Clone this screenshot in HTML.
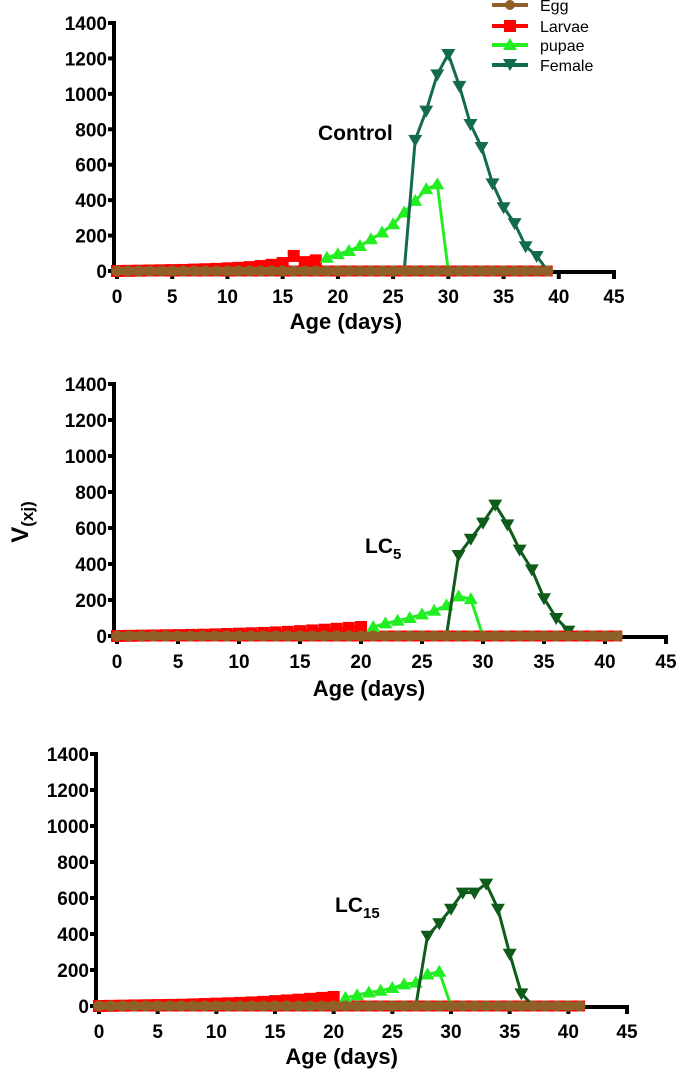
<!DOCTYPE html>
<html><head><meta charset="utf-8"><style>
html,body{margin:0;padding:0;background:#fff;}
svg{display:block;font-family:"Liberation Sans",Arial,sans-serif;font-weight:bold;}
</style></head><body>
<svg id="chart" width="685" height="1070" viewBox="0 0 685 1070" xmlns="http://www.w3.org/2000/svg">
<text transform="translate(28,522) rotate(-90)" font-size="24" text-anchor="middle">V<tspan font-size="17" dy="5">(xj)</tspan></text>
<g font-weight="normal" font-size="16">
 <g><line x1="492" y1="5" x2="528" y2="5" stroke="#8f6128" stroke-width="4"/><circle cx="510" cy="5" r="5" fill="#8f6128"/><text x="540" y="11">Egg</text></g>
 <g><line x1="492" y1="26" x2="528" y2="26" stroke="#ff0000" stroke-width="4"/><rect x="504" y="20" width="12" height="12" fill="#ff0000"/><text x="540" y="32">Larvae</text></g>
 <g><line x1="492" y1="45" x2="528" y2="45" stroke="#22ee22" stroke-width="4"/><path d="M510,38 L517,50 L503,50Z" fill="#22ee22"/><text x="540" y="51">pupae</text></g>
 <g><line x1="492" y1="65" x2="528" y2="65" stroke="#126b4a" stroke-width="4"/><path d="M503,59 L517,59 L510,71Z" fill="#126b4a"/><text x="540" y="71">Female</text></g>
</g>
</svg>
<script>
// Control panel data
const days = [0,1,2,3,4,5,6,7,8,9,10,11,12,13,14,15,16,17,18,19,20,21,22,23,24,25,26,27,28,29,30,31,32,33,34,35,36,37,38,39,40,41];
const ctrlLarvaeDays = [0,1,2,3,4,5,6,7,8,9,10,11,12,13,14,15,16,17,18];
const ctrlLarvae = [0,1,2,3,4,5,6,8,10,12,15,18,22,28,35,45,85,50,60];
const ctrlPupaeDays = [19,20,21,22,23,24,25,26,27,28,29,30];
const ctrlPupae = [75,95,113,141,179,217,264,330,396,462,490,0];
const ctrlFemaleDays = [26,27,28,29,30,31,32,33,34,35,36,37,38,39];
const ctrlFemale = [0,740,905,1110,1225,1045,830,700,495,360,270,140,85,0];
// LC5 panel data
const lc5LarvaeDays = [0,1,2,3,4,5,6,7,8,9,10,11,12,13,14,15,16,17,18,19,20];
const lc5Larvae = [0,1,2,3,4,5,6,7,9,11,13,15,17,20,23,27,31,35,40,45,50];
const lc5PupaeDays = [21,22,23,24,25,26,27,28,29,30];
const lc5Pupae = [50,70,85,100,120,140,170,220,205,0];
const lc5FemaleDays = [27,28,29,30,31,32,33,34,35,36,37];
const lc5Female = [0,450,540,630,730,620,480,370,210,100,30];
// LC15 panel data
const lc15LarvaeDays = [0,1,2,3,4,5,6,7,8,9,10,11,12,13,14,15,16,17,18,19,20];
const lc15Larvae = [0,1,2,3,4,5,6,7,9,11,13,15,17,20,23,27,31,35,40,45,50];
const lc15PupaeDays = [21,22,23,24,25,26,27,28,29,30];
const lc15Pupae = [45,60,75,85,100,120,130,175,190,0];
const lc15FemaleDays = [27,28,29,30,31,32,33,34,35,36,37];
const lc15Female = [0,390,460,540,630,630,680,540,290,70,0];
const yTicks = [0,200,400,600,800,1000,1200,1400];
const xTicks = [0,5,10,15,20,25,30,35,40,45];

const NS = "http://www.w3.org/2000/svg";
const svg = document.getElementById('chart');
function mk(tag, attrs, parent){const e=document.createElementNS(NS,tag);for(const k in attrs)e.setAttribute(k,attrs[k]);(parent||svg).appendChild(e);return e;}

const panels = [
 {name:'control', ax:114, x0:117, x45:614, y0:271, y1400:23, eggMax:39, label:'Control', sub:'', lx:318, ly:140, fcol:'#126b4a',
  lD:ctrlLarvaeDays, lV:ctrlLarvae, pD:ctrlPupaeDays, pV:ctrlPupae, fD:ctrlFemaleDays, fV:ctrlFemale, titleY:329},
 {name:'lc5', ax:114, x0:117, x45:666, y0:636, y1400:384, eggMax:41, label:'LC', sub:'5', lx:365, ly:553, fcol:'#0f5c1a',
  lD:lc5LarvaeDays, lV:lc5Larvae, pD:lc5PupaeDays, pV:lc5Pupae, fD:lc5FemaleDays, fV:lc5Female, titleY:696},
 {name:'lc15', ax:96, x0:99, x45:627, y0:1006, y1400:754, eggMax:41, label:'LC', sub:'15', lx:335, ly:912, fcol:'#0f5c1a',
  lD:lc15LarvaeDays, lV:lc15Larvae, pD:lc15PupaeDays, pV:lc15Pupae, fD:lc15FemaleDays, fV:lc15Female, titleY:1064}
];

panels.forEach(p=>{
 const g = mk('g',{});
 
 
 const X = d => p.x0 + (p.x45-p.x0)*d/45;
 const Y = v => p.y0 - (p.y0-p.y1400)*v/1400;
 const yax = mk('line',{x1:p.ax,y1:p.y1400-2,x2:p.ax,y2:p.y0+3,stroke:'#000','stroke-width':4},g);
 
 
 const xax = mk('line',{x1:p.ax,y1:p.y0+1,x2:X(45)+2,y2:p.y0+1,stroke:'#000','stroke-width':4},g);
 
 
 yTicks.forEach(t=>{
  mk('line',{x1:p.ax-6,y1:Y(t),x2:p.ax,y2:Y(t),stroke:'#000','stroke-width':4},g);
  const tx = mk('text',{x:p.ax-7,y:Y(t)+7,'font-size':19,'text-anchor':'end'},g);
  tx.textContent=t;
  
  
 });
 xTicks.forEach(t=>{
  mk('line',{x1:X(t),y1:p.y0,x2:X(t),y2:p.y0+8,stroke:'#000','stroke-width':4},g);
  const tx = mk('text',{x:X(t),y:p.y0+32,'font-size':19,'text-anchor':'middle'},g);
  tx.textContent=t;
  
  
 });
 const tt = mk('text',{x:(X(0)+X(40))/2+8,y:p.titleY,'font-size':22,'text-anchor':'middle'},g);
 tt.textContent='Age (days)';
 
 
 const lab = mk('text',{x:p.lx,y:p.ly,'font-size':21},g);
 lab.textContent=p.label;
 if(p.sub){const s=mk('tspan',{'font-size':15,dy:6},lab);s.textContent=p.sub;}
 
 
 const rb = mk('line',{x1:X(0)-5,y1:p.y0,x2:X(p.eggMax)+5,y2:p.y0,stroke:'#ff0000','stroke-width':11},g);
 
 
 const path=(D,V)=>D.map((d,i)=>(i?'L':'M')+X(d).toFixed(1)+','+Y(V[i]).toFixed(1)).join(' ');
 const lL = mk('path',{d:path(p.lD,p.lV),fill:'none',stroke:'#ff0000','stroke-width':3},g);
 
 
 p.lD.forEach((d,i)=>{const m=mk('rect',{x:X(d)-6,y:Y(p.lV[i])-6,width:12,height:12,fill:'#ff0000'},g);
  
  });
 const pL = mk('path',{d:path(p.pD,p.pV),fill:'none',stroke:'#22ee22','stroke-width':3},g);
 
 
 p.pD.forEach((d,i)=>{if(i===p.pD.length-1)return;const x=X(d),y=Y(p.pV[i]);
  const m=mk('path',{d:`M${x},${y-7} L${x+7},${y+5} L${x-7},${y+5}Z`,fill:'#22ee22'},g);
  
  });
 const fL = mk('path',{d:path(p.fD,p.fV),fill:'none',stroke:p.fcol,'stroke-width':3},g);
 
 
 p.fD.forEach((d,i)=>{if(i===0||p.fV[i]===0)return;const x=X(d),y=Y(p.fV[i]);
  const m=mk('path',{d:`M${x-7},${y-5} L${x+7},${y-5} L${x},${y+7}Z`,fill:p.fcol},g);
  
  });
 const eL = mk('line',{x1:X(0),y1:p.y0,x2:X(p.eggMax),y2:p.y0,stroke:'#8f6128','stroke-width':8},g);
 
 
 days.forEach(d=>{if(d>p.eggMax)return;const m=mk('circle',{cx:X(d),cy:p.y0,r:5.5,fill:'#8f6128'},g);
  
  });
});
</script>
</body></html>
